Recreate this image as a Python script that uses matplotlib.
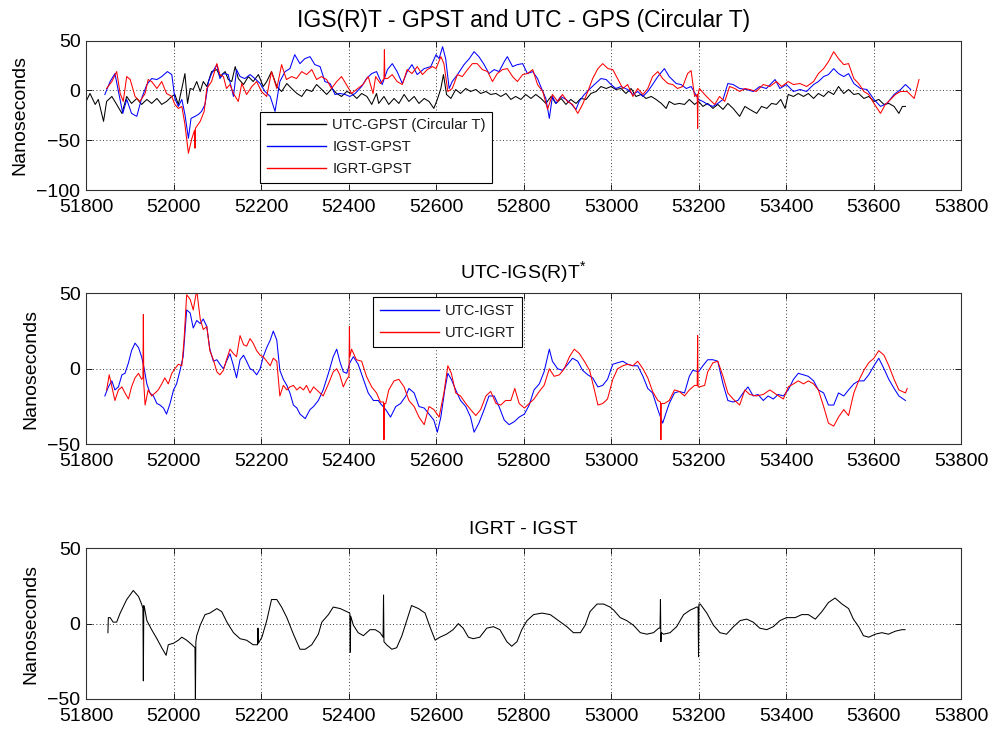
import numpy as np
import matplotlib
matplotlib.use("Agg")
import matplotlib.pyplot as plt
from matplotlib.lines import Line2D

plt.rcParams["font.family"] = ["Liberation Sans", "DejaVu Sans"]
plt.rcParams["mathtext.fontset"] = "custom"
plt.rcParams["mathtext.rm"] = "Liberation Sans"

# ---- Data (MJD, nanoseconds) ----
utc_gpst = [
    (51800, -11), (51809, -3), (51821, -14), (51828, -9), (51840, -31), (51847, -11), (51859, -6),
    (51870, -14), (51882, -23), (51893, -6), (51904, -13), (51916, -8), (51927, -14), (51939, -9),
    (51950, -13), (51962, -8), (51973, -14), (51984, -11), (51996, -6), (52003, -4), (52011, -14),
    (52019, 2), (52026, 17), (52032, -13), (52038, 2), (52045, 1), (52053, 9), (52061, -1), (52068, 9),
    (52076, 4), (52087, 19), (52099, 21), (52106, 14), (52118, 19), (52125, 11), (52133, 9), (52141, 24),
    (52148, 12), (52160, 6), (52171, 14), (52182, 9), (52194, 16), (52205, 4), (52213, 9), (52224, 19),
    (52236, 4), (52247, -1), (52259, 7), (52270, 2), (52282, -3), (52293, -6), (52304, 1), (52316, -1),
    (52327, 6), (52339, 1), (52350, -4), (52362, 2), (52373, -3), (52384, -6), (52396, -1), (52407, -3),
    (52419, -8), (52430, -3), (52442, -6), (52453, -14), (52464, -3), (52469, -13), (52481, -6),
    (52492, -14), (52504, -8), (52515, -13), (52527, -4), (52538, -11), (52550, -6), (52561, -13),
    (52573, -8), (52584, -11), (52595, -18), (52603, -9), (52611, 2), (52617, 16), (52624, -4),
    (52634, -8), (52645, 1), (52656, -3), (52668, 2), (52679, -1), (52691, 1), (52702, -3), (52714, -1),
    (52725, -4), (52737, -3), (52748, -6), (52760, -3), (52771, -9), (52782, -6), (52794, -9),
    (52805, -4), (52817, -8), (52828, -4), (52840, -8), (52851, -13), (52863, -6), (52874, -13),
    (52886, -8), (52897, -14), (52908, -9), (52920, -13), (52931, -8), (52943, -9), (52954, -3),
    (52966, -1), (52977, 4), (52989, 2), (53000, 4), (53011, 1), (53023, 2), (53034, -3), (53046, 2),
    (53057, -6), (53069, -4), (53080, -8), (53092, -6), (53103, -9), (53115, -13), (53126, -18),
    (53133, -11), (53145, -14), (53156, -13), (53168, -14), (53179, -9), (53191, -14), (53200, -11),
    (53210, -16), (53221, -13), (53233, -18), (53244, -14), (53256, -19), (53267, -13), (53279, -18),
    (53294, -26), (53306, -16), (53317, -19), (53333, -23), (53344, -16), (53356, -18), (53367, -13),
    (53378, -14), (53388, -9), (53398, -18), (53405, -4), (53417, -6), (53428, -3), (53440, -6),
    (53451, -3), (53463, -8), (53474, -3), (53486, -6), (53497, -1), (53509, -4), (53520, 4),
    (53532, -3), (53543, 1), (53555, -4), (53566, -3), (53578, -8), (53589, -6), (53601, -11),
    (53612, -9), (53624, -14), (53635, -13), (53647, -16), (53658, -23), (53666, -16), (53673, -16),
]

igst_gpst = [
    (51843, -4), (51855, 9), (51866, 17), (51874, -1), (51884, -23), (51893, -9), (51904, -23),
    (51916, -26), (51927, -8), (51939, 6), (51950, 12), (51962, 11), (51973, 14), (51986, 19),
    (51996, 16), (52003, -8), (52011, -16), (52019, -9), (52026, -24), (52034, -48), (52040, -28),
    (52049, -26), (52057, -24), (52064, -21), (52072, -14), (52080, 9), (52087, 17), (52099, 26),
    (52106, 12), (52114, 17), (52125, 16), (52137, -6), (52144, 21), (52152, 14), (52163, 12),
    (52175, 16), (52186, 12), (52198, 7), (52209, -1), (52221, -6), (52232, -21), (52243, 9),
    (52255, 19), (52266, 22), (52277, 36), (52289, 27), (52300, 32), (52312, 34), (52323, 26),
    (52335, 24), (52346, 9), (52358, 7), (52369, -4), (52380, -3), (52392, -4), (52403, -6),
    (52415, -3), (52430, 4), (52441, 12), (52453, 17), (52464, 19), (52477, 6), (52489, 21),
    (52500, 27), (52511, 19), (52523, 7), (52534, 19), (52545, 26), (52557, 16), (52573, 22),
    (52588, 24), (52600, 36), (52607, 32), (52615, 44), (52622, 32), (52630, 2), (52637, 9),
    (52649, 16), (52664, 26), (52676, 32), (52687, 39), (52698, 34), (52710, 26), (52721, 17),
    (52733, 21), (52744, 19), (52756, 29), (52763, 34), (52775, 24), (52786, 26), (52798, 27),
    (52809, 17), (52821, 19), (52832, 12), (52844, -1), (52851, -8), (52859, -28), (52866, -6),
    (52874, -13), (52885, -6), (52897, -9), (52908, -13), (52920, -19), (52927, -11), (52939, -4),
    (52950, 1), (52962, 6), (52977, 12), (52989, 11), (53000, 6), (53011, 2), (53023, 4), (53038, 1),
    (53050, -4), (53061, -1), (53073, -6), (53084, -1), (53095, 6), (53107, 14), (53122, 22),
    (53133, 14), (53149, 7), (53160, 6), (53172, 2), (53183, 4), (53200, -9), (53210, -11),
    (53221, -14), (53233, -16), (53244, -13), (53256, -9), (53267, 7), (53279, 6), (53294, 2),
    (53310, 1), (53325, -1), (53340, 4), (53355, 2), (53375, 11), (53386, 2), (53401, 6), (53417, -1),
    (53432, 1), (53447, -1), (53463, 6), (53474, 9), (53486, 14), (53497, 16), (53509, 22),
    (53520, 17), (53532, 14), (53543, 17), (53555, 7), (53570, 2), (53585, 1), (53601, -9),
    (53616, -16), (53631, -13), (53647, -4), (53662, 1), (53673, 6), (53685, 1),
]

igrt_gpst = [
    (51847, 2), (51859, 9), (51870, 19), (51878, -3), (51885, -11), (51893, 14), (51901, 11),
    (51912, -6), (51923, -11), (51935, -3), (51942, 11), (51950, 9), (51962, 2), (51973, 9),
    (51984, -3), (51996, -6), (52003, -14), (52011, -18), (52019, -16), (52026, -34), (52034, -63),
    (52042, -48), (52048, -40), (52049, -58), (52050, -38), (52061, -31), (52070, -21), (52076, 2),
    (52087, 9), (52099, 27), (52106, 16), (52114, 14), (52121, 2), (52129, 6), (52137, -3),
    (52148, -11), (52156, 7), (52167, -4), (52179, 4), (52190, 9), (52201, -1), (52213, -6),
    (52224, 19), (52236, 2), (52247, 26), (52258, 11), (52270, 14), (52281, 12), (52293, 19),
    (52304, 16), (52316, 21), (52327, 11), (52338, 14), (52350, 11), (52361, 2), (52373, 9),
    (52384, 14), (52395, 6), (52407, -3), (52418, 1), (52433, 6), (52445, 14), (52456, -3),
    (52462, 14), (52473, 7), (52481, 12), (52482, 41), (52483, 12), (52489, 12), (52500, 16),
    (52511, 9), (52523, 6), (52534, 21), (52545, 17), (52557, 24), (52569, 16), (52580, 21),
    (52592, 24), (52600, 22), (52611, 34), (52618, 27), (52627, -1), (52637, 2), (52649, 16),
    (52660, 14), (52672, 21), (52683, 27), (52694, 27), (52706, 21), (52718, 19), (52729, 9),
    (52740, 17), (52752, 21), (52763, 22), (52775, 14), (52786, 9), (52798, 16), (52809, 17),
    (52821, 21), (52832, 6), (52844, -1), (52855, -19), (52866, -4), (52878, -11), (52889, -4),
    (52900, -11), (52912, -14), (52924, -23), (52935, -14), (52947, -1), (52958, 12), (52970, 22),
    (52981, 27), (52993, 22), (53004, 21), (53015, 12), (53027, 2), (53038, 6), (53050, -6),
    (53061, 2), (53073, -4), (53084, 2), (53095, 14), (53107, 19), (53118, 12), (53130, 7),
    (53141, 6), (53152, 2), (53164, 4), (53175, 17), (53183, 20), (53191, -6), (53197, -4),
    (53198, -38), (53199, -4), (53202, 2), (53214, -4), (53225, -9), (53237, -14), (53248, -6),
    (53260, -11), (53271, 4), (53283, 2), (53294, -1), (53306, 2), (53317, 1), (53332, -1),
    (53348, 6), (53363, 4), (53378, 9), (53390, 4), (53405, 9), (53417, 6), (53432, 7), (53447, 4),
    (53463, 9), (53474, 17), (53486, 22), (53497, 29), (53509, 39), (53520, 32), (53532, 26),
    (53543, 27), (53555, 12), (53566, 7), (53578, -1), (53589, -4), (53601, -13), (53616, -23),
    (53627, -14), (53639, -9), (53650, -4), (53662, -1), (53677, -1), (53693, -8), (53704, 11),
]

utc_igst = [
    (51843, -18), (51851, -12), (51859, -8), (51866, -14), (51874, -12), (51882, -4), (51889, -3),
    (51897, 4), (51904, 12), (51912, 17), (51920, 14), (51927, 8), (51933, 0), (51939, -10),
    (51946, -16), (51954, -18), (51962, -23), (51969, -24), (51977, -26), (51984, -30), (51992, -23),
    (52000, -14), (52007, -10), (52015, -1), (52022, 8), (52030, 39), (52038, 37), (52045, 27),
    (52053, 32), (52061, 30), (52068, 33), (52076, 28), (52083, 13), (52091, 5), (52099, 6),
    (52106, 3), (52114, 0), (52121, 5), (52129, 10), (52137, 2), (52144, -6), (52152, 6), (52160, 9),
    (52167, 5), (52175, 0), (52182, -1), (52190, -4), (52198, 0), (52205, 8), (52213, 14), (52221, 19),
    (52228, 25), (52236, 19), (52243, -1), (52251, -7), (52259, -11), (52266, -16), (52274, -24),
    (52282, -26), (52289, -30), (52301, -33), (52312, -27), (52320, -25), (52331, -21), (52342, -14),
    (52354, -3), (52365, 8), (52373, 13), (52380, 5), (52388, -2), (52396, -3), (52403, 4), (52411, 8),
    (52422, 3), (52434, -7), (52445, -16), (52457, -21), (52468, -21), (52473, -23), (52485, -27),
    (52496, -32), (52508, -25), (52519, -23), (52531, -18), (52538, -13), (52550, -16), (52561, -25),
    (52573, -26), (52584, -30), (52595, -34), (52603, -42), (52611, -32), (52620, -14), (52627, -3),
    (52635, -7), (52645, -14), (52656, -21), (52668, -25), (52679, -32), (52687, -42), (52698, -36),
    (52710, -27), (52721, -18), (52733, -18), (52744, -25), (52756, -34), (52767, -37), (52779, -35),
    (52790, -32), (52802, -30), (52813, -24), (52824, -14), (52836, -10), (52847, -2), (52859, 13),
    (52866, 5), (52878, 0), (52889, -1), (52901, 3), (52912, 7), (52924, 5), (52935, -1), (52947, -4),
    (52958, -6), (52970, -12), (52981, -11), (52992, -7), (53004, 3), (53015, 4), (53027, 5),
    (53038, 3), (53050, 2), (53061, 2), (53073, -5), (53084, -13), (53095, -16), (53107, -27),
    (53118, -36), (53133, -23), (53145, -16), (53156, -15), (53168, -16), (53179, -5), (53187, -1),
    (53200, -2), (53210, 2), (53221, 6), (53233, 6), (53244, 5), (53256, -10), (53267, -21),
    (53279, -22), (53290, -21), (53302, -16), (53313, -12), (53325, -18), (53336, -17), (53348, -21),
    (53359, -18), (53371, -20), (53382, -17), (53394, -18), (53405, -14), (53417, -7), (53428, -3),
    (53440, -4), (53451, -5), (53463, -8), (53474, -14), (53486, -16), (53497, -24), (53509, -24),
    (53520, -16), (53532, -18), (53543, -14), (53555, -10), (53566, -8), (53578, -8), (53589, -4),
    (53601, 2), (53612, 7), (53624, 0), (53635, -7), (53647, -13), (53658, -18), (53673, -21),
]

utc_igrt = [
    (51847, -14), (51853, -4), (51859, -12), (51866, -21), (51874, -14), (51882, -12), (51889, -16),
    (51897, -20), (51904, -12), (51912, -6), (51920, -3), (51927, -7), (51930, -6), (51931, 36),
    (51932, -10), (51935, -24), (51942, -14), (51950, -18), (51958, -16), (51965, -14), (51973, -10),
    (51980, -6), (51988, -10), (51996, -3), (52003, 0), (52011, 3), (52019, 2), (52024, 19),
    (52030, 49), (52038, 46), (52045, 39), (52053, 52), (52061, 33), (52068, 26), (52076, 28),
    (52083, 12), (52091, 6), (52099, -2), (52106, -4), (52114, -1), (52121, 6), (52129, 13),
    (52137, 10), (52144, 8), (52152, 22), (52160, 16), (52167, 15), (52175, 20), (52182, 17),
    (52190, 12), (52198, 9), (52205, 8), (52213, 5), (52221, 2), (52228, 7), (52236, 5), (52243, -18),
    (52251, -11), (52259, -14), (52266, -12), (52274, -11), (52282, -14), (52289, -12), (52297, -14),
    (52304, -11), (52312, -16), (52320, -12), (52331, -15), (52342, -18), (52354, -10), (52365, -2),
    (52373, 0), (52380, -4), (52388, -12), (52396, -7), (52401, -5), (52402, 28), (52403, 8),
    (52407, 13), (52418, 6), (52430, 5), (52441, -5), (52453, -12), (52464, -16), (52473, -22),
    (52480, -22), (52481, -47), (52482, -23), (52485, -23), (52492, -14), (52504, -8), (52515, -7),
    (52527, -12), (52538, -21), (52550, -25), (52561, -32), (52573, -37), (52584, -25), (52595, -27),
    (52607, -32), (52618, -16), (52627, 2), (52635, -3), (52645, -16), (52656, -18), (52668, -23),
    (52679, -27), (52691, -31), (52702, -27), (52714, -18), (52725, -15), (52737, -23), (52748, -24),
    (52759, -21), (52771, -21), (52780, -13), (52790, -23), (52802, -26), (52813, -23), (52824, -20),
    (52836, -15), (52847, -11), (52859, 0), (52870, -5), (52882, -4), (52893, 0), (52905, 8),
    (52916, 13), (52928, 10), (52939, 5), (52951, -1), (52962, -14), (52970, -24), (52981, -23),
    (52992, -20), (53004, -7), (53015, 0), (53027, 2), (53038, 3), (53050, 2), (53061, 5), (53073, 0),
    (53084, -6), (53095, -15), (53107, -21), (53113, -22), (53114, -47), (53115, -23), (53122, -23),
    (53133, -21), (53145, -14), (53156, -15), (53168, -18), (53179, -14), (53191, -11), (53197, -11),
    (53198, 22), (53199, -12), (53202, -12), (53214, -11), (53221, -2), (53233, 4), (53244, 5),
    (53256, -5), (53267, -16), (53279, -20), (53294, -24), (53306, -14), (53317, -17), (53332, -18),
    (53348, -17), (53363, -14), (53378, -17), (53394, -20), (53405, -12), (53417, -10), (53428, -8),
    (53440, -10), (53451, -8), (53463, -10), (53474, -14), (53486, -25), (53497, -36), (53509, -38),
    (53520, -32), (53532, -27), (53543, -31), (53555, -16), (53566, -8), (53578, -1), (53589, 4),
    (53601, 7), (53612, 12), (53624, 9), (53635, 2), (53647, -7), (53658, -14), (53673, -16),
    (53677, -13),
]

igrt_igst = [
    (51850, -6), (51851, 4), (51855, 4), (51862, 1), (51870, 1), (51878, 7), (51893, 16), (51908, 22),
    (51920, 18), (51927, 13), (51930, 10), (51931, -38), (51932, 12), (51934, 10), (51939, 2),
    (51950, -4), (51962, -10), (51973, -16), (51983, -21), (51988, -14), (52000, -13), (52011, -11),
    (52019, -9), (52030, -11), (52042, -14), (52049, -16), (52050, -51), (52051, -12), (52053, -8),
    (52061, -1), (52072, 6), (52083, 7), (52099, 10), (52110, 8), (52122, 1), (52137, -6),
    (52152, -10), (52167, -11), (52182, -14), (52192, -14), (52193, -3), (52194, -13), (52202, -9),
    (52213, 2), (52224, 16), (52236, 16), (52247, 11), (52259, 4), (52274, -7), (52289, -17),
    (52301, -17), (52316, -14), (52331, -7), (52339, 1), (52354, 6), (52365, 11), (52381, 10),
    (52396, 8), (52403, 7), (52404, -19), (52405, 5), (52411, -1), (52422, -6), (52434, -8),
    (52449, -4), (52461, -4), (52472, -6), (52479, -9), (52480, 19), (52481, -12), (52487, -14),
    (52499, -17), (52510, -16), (52522, -8), (52533, 2), (52544, 12), (52560, 10), (52575, 7),
    (52586, -2), (52598, -11), (52609, -9), (52624, -7), (52639, -4), (52651, 0), (52662, -3),
    (52674, -9), (52685, -10), (52700, -9), (52716, -3), (52731, -2), (52746, -4), (52762, -12),
    (52773, -15), (52785, -12), (52796, -4), (52808, 2), (52823, 6), (52842, 7), (52861, 6),
    (52880, 2), (52899, -2), (52914, -6), (52930, -6), (52941, -1), (52952, 8), (52968, 13),
    (52983, 13), (52998, 11), (53006, 9), (53021, 4), (53036, 2), (53051, -1), (53067, -6),
    (53082, -7), (53097, -6), (53109, -3), (53112, -3), (53113, 16), (53114, -12), (53115, -6),
    (53120, -7), (53135, -6), (53150, -2), (53166, 6), (53181, 9), (53196, 11), (53199, 11),
    (53200, -22), (53201, 13), (53204, 13), (53219, 7), (53234, -1), (53249, -6), (53264, -7),
    (53280, -2), (53295, 2), (53310, 3), (53325, 1), (53340, -3), (53356, -4), (53371, -2),
    (53386, 2), (53401, 4), (53421, 4), (53436, 6), (53451, 6), (53467, 3), (53482, 8), (53497, 14),
    (53512, 17), (53528, 13), (53543, 10), (53554, 3), (53566, -2), (53577, -8), (53589, -9),
    (53604, -7), (53619, -6), (53634, -7), (53650, -5), (53665, -4), (53672, -4),
]

xticks = list(range(51800, 53801, 200))
yticks_top = [-100, -50, 0, 50]
yticks_low = [-50, 0, 50]

BLUE = "#0000ff"
RED = "#ff0000"
BLACK = "#000000"
LEG_FS = 10.6


def xy(series):
    arr = np.array(series, dtype=float)
    return arr[:, 0], arr[:, 1]


def style(ax, yticks, title, title_fs=14):
    ax.set_xlim(xticks[0], xticks[-1])
    ax.set_ylim(yticks[0], yticks[-1])
    ax.set_xticks(xticks)
    ax.set_yticks(yticks)
    ax.tick_params(direction="in", length=4.5, width=0.6, top=True, right=True,
                   labelsize=14, colors="k")
    ax.tick_params(axis="x", pad=6.5)
    ax.tick_params(axis="y", pad=4)
    ax.grid(True, color="k", linestyle=(0, (1, 3)), linewidth=0.6)
    ax.set_axisbelow(True)
    for s in ax.spines.values():
        s.set_linewidth(0.8)
        s.set_color("#333333")
    ax.set_ylabel("Nanoseconds", fontsize=14, labelpad=6)
    ax.set_title(title, fontsize=title_fs, pad=10)


def legend(ax, handles, loc, anchor):
    leg = ax.legend(handles=handles, loc=loc, bbox_to_anchor=anchor, borderaxespad=0,
                    fontsize=LEG_FS, handlelength=4.0, handletextpad=0.45,
                    labelspacing=0.55, borderpad=0.45, fancybox=False,
                    edgecolor="k", framealpha=1, labelcolor="#1a1a1a")
    leg.get_frame().set_linewidth(0.8)
    return leg


fig = plt.figure(figsize=(9.97, 7.30), dpi=100)
ax1 = fig.add_axes([0.0863, 0.7397, 0.8776, 0.2045])
ax2 = fig.add_axes([0.0863, 0.3914, 0.8776, 0.2068])
ax3 = fig.add_axes([0.0863, 0.0425, 0.8776, 0.2064])

lw = 0.75
# Panel 1
ax1.plot(*xy(utc_gpst), color=BLACK, lw=lw)
ax1.plot(*xy(igst_gpst), color=BLUE, lw=lw)
ax1.plot(*xy(igrt_gpst), color=RED, lw=lw)
style(ax1, yticks_top, "IGS(R)T - GPST and UTC - GPS (Circular T)", title_fs=16.5)
legend(ax1, [Line2D([], [], color=BLACK, lw=1.0, label="UTC-GPST (Circular T)"),
             Line2D([], [], color=BLUE, lw=1.0, label="IGST-GPST"),
             Line2D([], [], color=RED, lw=1.0, label="IGRT-GPST")],
       "lower left", (0.199, 0.047))

# Panel 2
ax2.plot(*xy(utc_igst), color=BLUE, lw=lw)
ax2.plot(*xy(utc_igrt), color=RED, lw=lw)
style(ax2, yticks_low, r"UTC-IGS(R)T$^{*}$")
legend(ax2, [Line2D([], [], color=BLUE, lw=1.0, label="UTC-IGST"),
             Line2D([], [], color=RED, lw=1.0, label="UTC-IGRT")],
       "upper left", (0.328, 0.974))

# Panel 3
ax3.plot(*xy(igrt_igst), color=BLACK, lw=lw)
style(ax3, yticks_low, "IGRT - IGST")

fig.savefig("out.png", dpi=100)
